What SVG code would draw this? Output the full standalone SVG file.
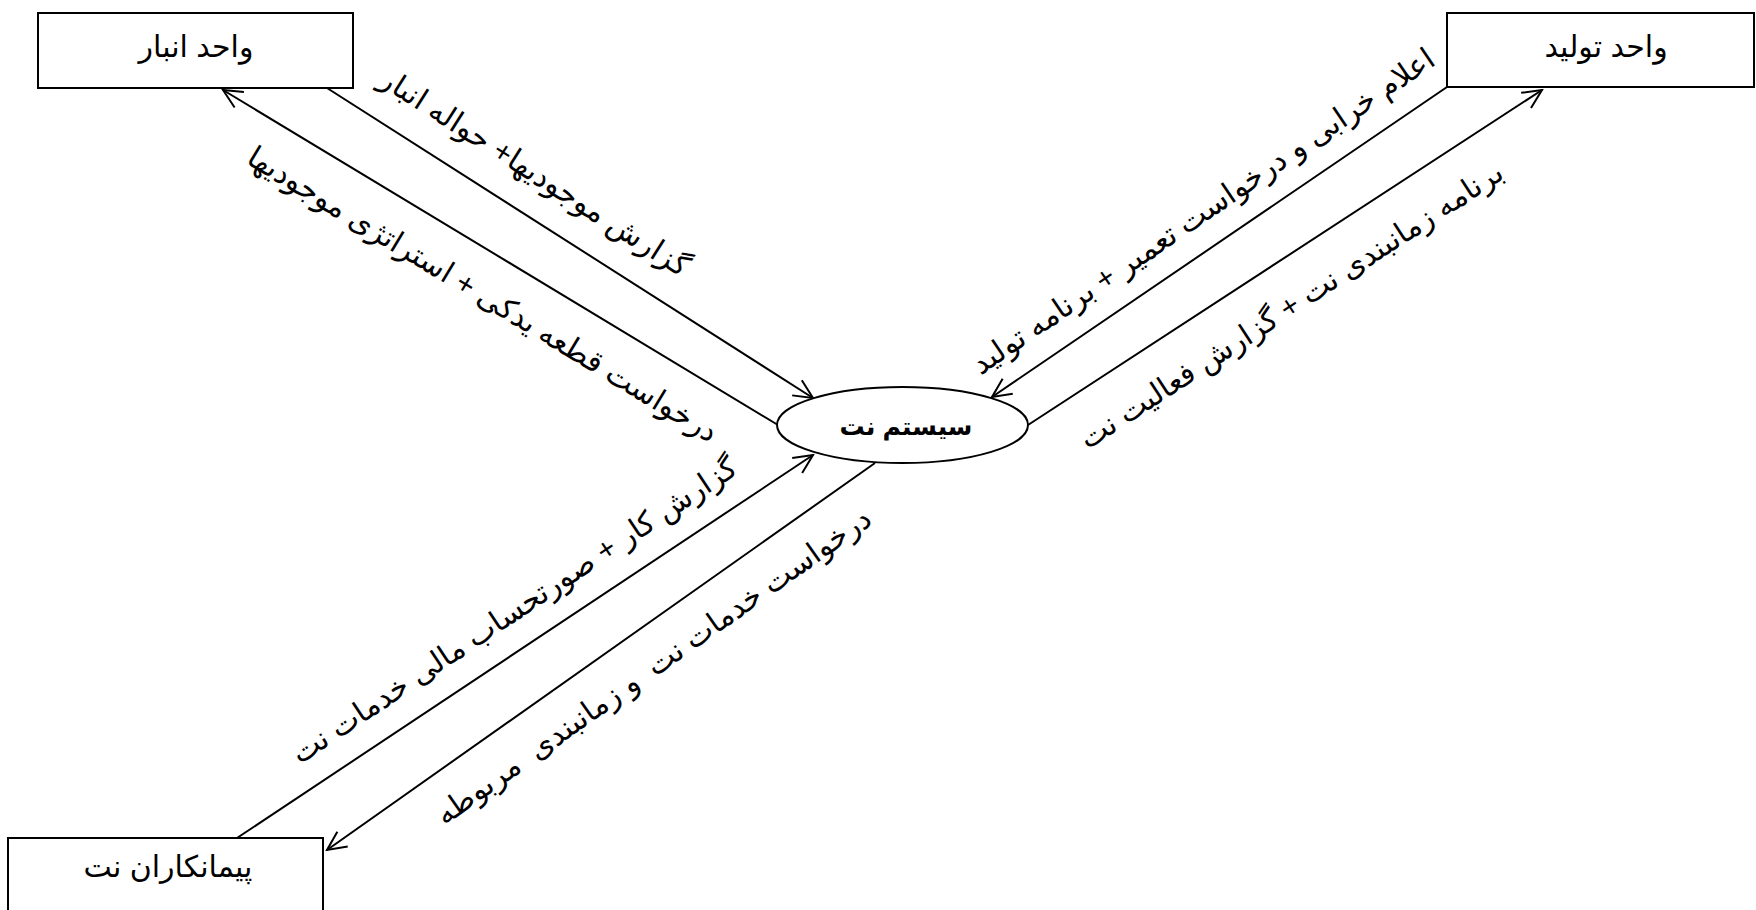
<svg xmlns="http://www.w3.org/2000/svg" width="1756" height="910" viewBox="0 0 1756 910">
<style>
.box{fill:#fff;stroke:#000;stroke-width:2}
.lbl{font-family:"Liberation Sans","DejaVu Sans",sans-serif;font-size:30px;fill:#000;text-anchor:middle;dominant-baseline:central}
.ln{stroke:#000;stroke-width:2;fill:none}
</style>
<defs>
<marker id="arr" viewBox="-22 -11 24 22" refX="0" refY="0" markerWidth="24" markerHeight="22" markerUnits="userSpaceOnUse" orient="auto">
<path d="M-19,-9 L0,0 L-19,9" fill="none" stroke="#000" stroke-width="2"/>
</marker>
</defs>
<rect width="1756" height="910" fill="#fff"/>
<g id="connectors">
<line class="ln" x1="327" y1="88" x2="813" y2="398" marker-end="url(#arr)"/>
<line class="ln" x1="778" y1="425" x2="223" y2="90" marker-end="url(#arr)"/>
<line class="ln" x1="237" y1="838" x2="813" y2="455" marker-end="url(#arr)"/>
<line class="ln" x1="875" y1="463" x2="327" y2="850" marker-end="url(#arr)"/>
<line class="ln" x1="1447" y1="87" x2="992" y2="397" marker-end="url(#arr)"/>
<line class="ln" x1="1028" y1="425" x2="1542" y2="90" marker-end="url(#arr)"/>
<text class="lbl" direction="rtl" transform="translate(535,172) rotate(32.5)">گزارش موجودیها+ حواله انبار</text>
<text class="lbl" direction="rtl" transform="translate(483,294) rotate(31.1)">درخواست قطعه یدکی + استراتژی موجودیها</text>
<text class="lbl" direction="rtl" transform="translate(1203,211) rotate(-34.3)">اعلام خرابی و درخواست تعمیر + برنامه تولید</text>
<text class="lbl" direction="rtl" transform="translate(1291,305) rotate(-33.1)">برنامه زمانبندی نت + گزارش فعالیت نت</text>
<text class="lbl" direction="rtl" transform="translate(514,610) rotate(-33.6)">گزارش کار + صورتحساب مالی خدمات نت</text>
<text class="lbl" direction="rtl" xml:space="preserve" transform="translate(653,666) rotate(-35.2)">درخواست خدمات نت  و زمانبندی  مربوطه</text>
</g>
<g id="node-anbar">
<rect class="box" x="38" y="13" width="315" height="75"/>
<text class="lbl" direction="rtl" x="196" y="46">واحد انبار</text>
</g>
<g id="node-tolid">
<rect class="box" x="1447" y="13" width="307" height="74"/>
<text class="lbl" direction="rtl" x="1606" y="46">واحد تولید</text>
</g>
<g id="node-peymankaran">
<rect class="box" x="8" y="838" width="315" height="100"/>
<text class="lbl" direction="rtl" x="168" y="866">پیمانکاران نت</text>
</g>
<g id="node-system">
<ellipse class="box" cx="902.5" cy="425" rx="125.5" ry="38"/>
<text class="lbl" direction="rtl" x="906" y="426" style="font-weight:bold;font-size:25px">سیستم نت</text>
</g>
</svg>
